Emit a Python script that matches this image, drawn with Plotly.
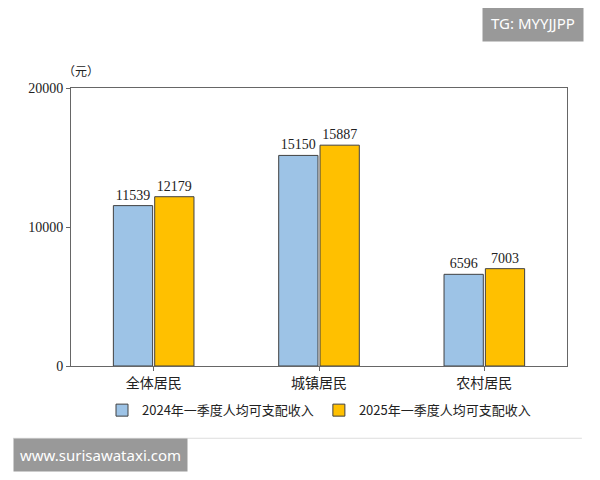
import plotly.graph_objects as go

categories = ["全体居民", "城镇居民", "农村居民"]
income_2024 = [11539, 15150, 6596]
income_2025 = [12179, 15887, 7003]
series_names = ["2024年一季度人均可支配收入", "2025年一季度人均可支配收入"]

serif = "Liberation Serif, Noto Sans CJK SC"

fig = go.Figure()
fig.add_trace(go.Bar(x=categories, y=income_2024, name=series_names[0],
                     marker=dict(color="#9DC3E6", line=dict(color="#404040", width=1)),
                     text=income_2024, textposition="outside",
                     textfont=dict(size=14, color="#222", family=serif)))
fig.add_trace(go.Bar(x=categories, y=income_2025, name=series_names[1],
                     marker=dict(color="#FFC000", line=dict(color="#404040", width=1)),
                     text=income_2025, textposition="outside",
                     textfont=dict(size=14, color="#222", family=serif)))

fig.update_layout(
    width=600, height=480,
    margin=dict(l=63, r=41, t=80, b=122, autoexpand=False),
    paper_bgcolor="white", plot_bgcolor="white",
    barmode="group", bargap=0.5, bargroupgap=0.05,
    font=dict(family=serif, size=14, color="#222"),
    showlegend=True,
    legend=dict(orientation="h", x=0.5, xanchor="center", y=-0.105, yanchor="top",
                font=dict(size=13, family="Noto Sans CJK SC"), itemwidth=30),
    yaxis=dict(range=[0, 20000], tickvals=[0, 10000, 20000], tickformat="d",
               showgrid=False, showline=True, linecolor="#666", ticks="outside",
               ticklen=4, tickcolor="#666", zeroline=False, mirror=True),
    xaxis=dict(showline=True, linecolor="#666", ticks="outside", ticklen=4,
               tickcolor="#666", mirror=True,
               tickfont=dict(family="Noto Sans CJK SC", size=14)),
    annotations=[
        dict(text="（元）", xref="paper", yref="paper", x=-0.02, y=1.1, showarrow=False,
             font=dict(size=12, family="Noto Sans CJK SC")),
        dict(text="TG: MYYJJPP", xref="paper", yref="paper", x=1.035, y=1.235,
             xanchor="right", yanchor="middle", showarrow=False, bgcolor="#999999",
             borderpad=8, font=dict(color="white", size=15, family="Noto Sans")),
        dict(text="www.surisawataxi.com", xref="paper", yref="paper", x=-0.117, y=-0.32,
             xanchor="left", yanchor="middle", showarrow=False, bgcolor="#999999",
             borderpad=6, font=dict(color="white", size=15, family="Noto Sans")),
    ],
    shapes=[dict(type="line", xref="paper", yref="paper", x0=-0.117, x1=1.03,
                 y0=-0.26, y1=-0.26, line=dict(color="#dddddd", width=1))],
)

fig.write_html("out.html")
